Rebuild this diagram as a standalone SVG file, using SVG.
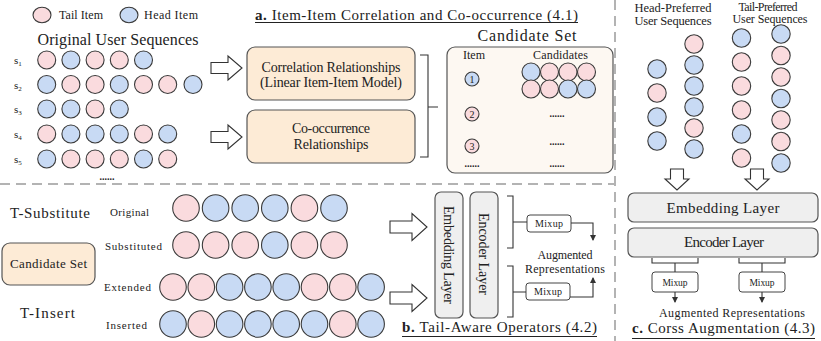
<svg xmlns="http://www.w3.org/2000/svg" width="821" height="341" viewBox="0 0 821 341">
<defs>
<style>
text{font-family:"Liberation Serif","Times New Roman",serif;fill:#222}
.p{fill:#fadbde;stroke:#3a3a3a;stroke-width:1.1}
.b{fill:#c8daf4;stroke:#3a3a3a;stroke-width:1.1}
.peach{fill:#fdebd6;stroke:#555;stroke-width:1.2}
.light{fill:#fdf8f2;stroke:#555;stroke-width:1.2}
.gray{fill:#efefef;stroke:#555;stroke-width:1.2}
.mix{fill:#fff;stroke:#444;stroke-width:1}
.arr{fill:#fff;stroke:#333;stroke-width:1.1}
.ln{fill:none;stroke:#333;stroke-width:1.1}
.dash{fill:none;stroke:#b3b3b3;stroke-width:2;stroke-dasharray:10 6}
.c{text-anchor:middle}
</style>
<marker id="ah" viewBox="0 0 6 6" refX="5" refY="3" markerWidth="6" markerHeight="6" orient="auto" markerUnits="userSpaceOnUse">
<path d="M0,0 L6,3 L0,6 Z" fill="#333"/>
</marker>
</defs>

<g id="dividers">
<line class="dash" x1="0" y1="184" x2="614" y2="184"/>
<line class="dash" x1="615" y1="0" x2="615" y2="341"/>
</g>

<g id="legend">
<ellipse class="p" cx="42" cy="15" rx="9" ry="7.8"/>
<text x="59" y="19" font-size="12" textLength="44">Tail Item</text>
<ellipse class="b" cx="129" cy="15" rx="9" ry="7.8"/>
<text x="144" y="19" font-size="12" textLength="54">Head Item</text>
</g>

<g id="title-a">
<text x="255" y="19.5" font-size="15" textLength="323"><tspan font-weight="bold">a.</tspan> Item-Item Correlation and Co-occurrence (4.1)</text>
<line x1="255" y1="22.5" x2="578" y2="22.5" stroke="#222" stroke-width="1"/>
</g>

<g id="original-sequences">
<text class="c" x="118" y="44.5" font-size="16" textLength="161">Original User Sequences</text>
<g font-size="11">
<text x="14" y="64">s<tspan font-size="7" dy="2">1</tspan></text>
<text x="14" y="88.5">s<tspan font-size="7" dy="2">2</tspan></text>
<text x="14" y="113">s<tspan font-size="7" dy="2">3</tspan></text>
<text x="14" y="138">s<tspan font-size="7" dy="2">4</tspan></text>
<text x="14" y="163">s<tspan font-size="7" dy="2">5</tspan></text>
</g>
<g>
<circle class="p" cx="46.7" cy="60" r="9"/><circle class="b" cx="70.9" cy="60" r="9"/><circle class="p" cx="95.1" cy="60" r="9"/><circle class="p" cx="119.3" cy="60" r="9"/><circle class="b" cx="143.5" cy="60" r="9"/>
<circle class="b" cx="46.7" cy="84.5" r="9"/><circle class="p" cx="70.9" cy="84.5" r="9"/><circle class="p" cx="95.1" cy="84.5" r="9"/><circle class="b" cx="119.3" cy="84.5" r="9"/><circle class="p" cx="143.5" cy="84.5" r="9"/><circle class="p" cx="167.7" cy="84.5" r="9"/><circle class="b" cx="193" cy="84.5" r="9"/>
<circle class="b" cx="46.7" cy="109" r="9"/><circle class="b" cx="70.9" cy="109" r="9"/><circle class="p" cx="95.1" cy="109" r="9"/><circle class="b" cx="119.3" cy="109" r="9"/>
<circle class="p" cx="46.7" cy="134" r="9"/><circle class="b" cx="70.9" cy="134" r="9"/><circle class="b" cx="95.1" cy="134" r="9"/><circle class="b" cx="119.3" cy="134" r="9"/><circle class="p" cx="143.5" cy="134" r="9"/><circle class="b" cx="167.7" cy="134" r="9"/>
<circle class="b" cx="46.7" cy="159" r="9"/><circle class="p" cx="70.9" cy="159" r="9"/><circle class="p" cx="95.1" cy="159" r="9"/><circle class="p" cx="119.3" cy="159" r="9"/><circle class="b" cx="143.5" cy="159" r="9"/><circle class="p" cx="167.7" cy="159" r="9"/>
</g>
<text class="c" x="107" y="180" font-size="10" font-weight="bold">......</text>
</g>

<g id="correlation-box">
<rect class="peach" x="247" y="47" width="168" height="53" rx="8"/>
<text class="c" x="331" y="71.5" font-size="14" textLength="139">Correlation Relationships</text>
<text class="c" x="331" y="86.5" font-size="14" textLength="142">(Linear Item-Item Model)</text>
</g>

<g id="cooccurrence-box">
<rect class="peach" x="247" y="110" width="168" height="53" rx="8"/>
<text class="c" x="331" y="133" font-size="14" textLength="78">Co-occurrence</text>
<text class="c" x="331" y="148.5" font-size="14" textLength="75">Relationships</text>
</g>

<g id="candidate-set-a">
<text class="c" x="527" y="40.5" font-size="16" textLength="99">Candidate Set</text>
<rect class="light" x="447" y="47" width="166" height="126" rx="8"/>
<text x="463" y="59" font-size="12" textLength="22">Item</text>
<text x="533" y="59" font-size="12" textLength="55">Candidates</text>
<circle class="b" cx="472" cy="79" r="7"/><text class="c" x="472" y="82.5" font-size="10">1</text>
<circle class="p" cx="472" cy="114" r="7"/><text class="c" x="472" y="117.5" font-size="10">2</text>
<circle class="p" cx="472" cy="146" r="7"/><text class="c" x="472" y="149.5" font-size="10">3</text>
<text class="c" x="472" y="167" font-size="10" font-weight="bold">......</text>
<circle class="b" cx="531" cy="72" r="9"/><circle class="p" cx="549.5" cy="72" r="9"/><circle class="p" cx="568" cy="72" r="9"/><circle class="p" cx="586.5" cy="72" r="9"/>
<circle class="p" cx="531" cy="89" r="9"/><circle class="p" cx="549.5" cy="89" r="9"/><circle class="b" cx="568" cy="89" r="9"/><circle class="b" cx="586.5" cy="89" r="9"/>
<text class="c" x="557" y="117" font-size="10" font-weight="bold">......</text>
<text class="c" x="557" y="145" font-size="10" font-weight="bold">......</text>
<text class="c" x="557" y="167" font-size="10" font-weight="bold">......</text>
</g>

<g id="head-preferred">
<text class="c" x="673" y="11.5" font-size="12.5" textLength="77">Head-Preferred</text>
<text class="c" x="673" y="24.5" font-size="12.5" textLength="77">User Sequences</text>
<circle class="b" cx="657" cy="69" r="9.2"/><circle class="p" cx="657" cy="93" r="9.2"/><circle class="b" cx="657" cy="117" r="9.2"/><circle class="b" cx="657" cy="141" r="9.2"/>
<circle class="p" cx="694" cy="44" r="9.2"/><circle class="b" cx="694" cy="65" r="9.2"/><circle class="b" cx="694" cy="86" r="9.2"/><circle class="b" cx="694" cy="107" r="9.2"/><circle class="p" cx="694" cy="128" r="9.2"/><circle class="b" cx="694" cy="149" r="9.2"/>
</g>

<g id="tail-preferred">
<text class="c" x="768" y="10.5" font-size="12" textLength="59">Tail-Preferred</text>
<text class="c" x="770" y="23" font-size="12" textLength="75">User Sequences</text>
<circle class="b" cx="741.5" cy="38" r="9.2"/><circle class="p" cx="741.5" cy="62" r="9.2"/><circle class="p" cx="741.5" cy="86" r="9.2"/><circle class="p" cx="741.5" cy="110" r="9.2"/><circle class="b" cx="741.5" cy="134" r="9.2"/><circle class="p" cx="741.5" cy="158" r="9.2"/>
<circle class="b" cx="781" cy="34" r="9.2"/><circle class="p" cx="781" cy="55.5" r="9.2"/><circle class="p" cx="781" cy="77" r="9.2"/><circle class="b" cx="781" cy="98.5" r="9.2"/><circle class="p" cx="781" cy="120" r="9.2"/><circle class="p" cx="781" cy="141.5" r="9.2"/><circle class="b" cx="781" cy="163" r="9.2"/>
</g>

<g id="embedding-c">
<rect class="gray" x="628" y="193" width="190" height="29" rx="6"/>
<text class="c" x="723" y="212.5" font-size="15" textLength="113">Embedding Layer</text>
</g>
<g id="encoder-c">
<rect class="gray" x="628" y="228" width="190" height="29" rx="6"/>
<text class="c" x="724" y="246.5" font-size="15" textLength="80">Encoder Layer</text>
</g>
<g id="mixup-c1">
<rect class="mix" x="652" y="272" width="46" height="20" rx="3"/>
<text class="c" x="675" y="285.5" font-size="9.5" textLength="25">Mixup</text>
</g>
<g id="mixup-c2">
<rect class="mix" x="739" y="272" width="46" height="20" rx="3"/>
<text class="c" x="762" y="285.5" font-size="9.5" textLength="25">Mixup</text>
</g>
<g id="aug-c">
<text class="c" x="732" y="316.5" font-size="12" textLength="146">Augmented Representations</text>
</g>
<g id="title-c">
<text x="632" y="333" font-size="15" textLength="183"><tspan font-weight="bold">c.</tspan> Corss Augmentation (4.3)</text>
<line x1="632" y1="338.5" x2="815" y2="338.5" stroke="#222" stroke-width="1"/>
</g>

<g id="t-substitute">
<text x="10" y="218" font-size="15" textLength="80">T-Substitute</text>
<text x="110" y="216" font-size="11" textLength="39">Original</text>
<text x="105" y="250" font-size="11" textLength="57">Substituted</text>
<circle class="p" cx="186" cy="208" r="13.3"/><circle class="b" cx="215.6" cy="208" r="13.3"/><circle class="b" cx="245.2" cy="208" r="13.3"/><circle class="b" cx="274.8" cy="208" r="13.3"/><circle class="p" cx="304.4" cy="208" r="13.3"/><circle class="b" cx="334" cy="208" r="13.3"/>
<circle class="p" cx="186" cy="245" r="13.3"/><circle class="p" cx="215.6" cy="245" r="13.3"/><circle class="p" cx="245.2" cy="245" r="13.3"/><circle class="b" cx="274.8" cy="245" r="13.3"/><circle class="p" cx="304.4" cy="245" r="13.3"/><circle class="p" cx="334" cy="245" r="13.3"/>
</g>

<g id="candidate-set-b">
<rect class="peach" x="2" y="243" width="93" height="42" rx="8"/>
<text class="c" x="48.5" y="268" font-size="13" textLength="77">Candidate Set</text>
</g>

<g id="t-insert">
<text x="20" y="318" font-size="15" textLength="55">T-Insert</text>
<text x="104" y="291" font-size="11" textLength="47">Extended</text>
<text x="106" y="329" font-size="11" textLength="41">Inserted</text>
<circle class="p" cx="173" cy="287" r="13.3"/><circle class="p" cx="201.3" cy="287" r="13.3"/><circle class="b" cx="229.6" cy="287" r="13.3"/><circle class="b" cx="257.9" cy="287" r="13.3"/><circle class="b" cx="286.2" cy="287" r="13.3"/><circle class="p" cx="314.5" cy="287" r="13.3"/><circle class="p" cx="342.8" cy="287" r="13.3"/><circle class="b" cx="371.1" cy="287" r="13.3"/>
<circle class="b" cx="173" cy="324" r="13.3"/><circle class="p" cx="201.3" cy="324" r="13.3"/><circle class="b" cx="229.6" cy="324" r="13.3"/><circle class="b" cx="257.9" cy="324" r="13.3"/><circle class="b" cx="286.2" cy="324" r="13.3"/><circle class="b" cx="314.5" cy="324" r="13.3"/><circle class="p" cx="342.8" cy="324" r="13.3"/><circle class="b" cx="371.1" cy="324" r="13.3"/>
</g>

<g id="embedding-b">
<rect class="gray" x="435" y="192" width="28" height="126" rx="6"/>
<text class="c" x="449" y="255" font-size="14" textLength="98" transform="rotate(90 449 255)" dy="5">Embedding Layer</text>
</g>
<g id="encoder-b">
<rect class="gray" x="470" y="192" width="28" height="126" rx="6"/>
<text class="c" x="484" y="254" font-size="14" textLength="82" transform="rotate(90 484 254)" dy="5">Encoder Layer</text>
</g>
<g id="mixup-b1">
<rect class="mix" x="527" y="215" width="44" height="17" rx="3"/>
<text class="c" x="549" y="227" font-size="10" textLength="28">Mixup</text>
</g>
<g id="mixup-b2">
<rect class="mix" x="526" y="283" width="44" height="17" rx="3"/>
<text class="c" x="548" y="295" font-size="10" textLength="28">Mixup</text>
</g>
<g id="aug-b">
<text class="c" x="565" y="259" font-size="12" textLength="55">Augmented</text>
<text class="c" x="565" y="272.5" font-size="12" textLength="80">Representations</text>
</g>
<g id="title-b">
<text x="402" y="332" font-size="15" textLength="195"><tspan font-weight="bold">b.</tspan> Tail-Aware Operators (4.2)</text>
<line x1="402" y1="336.5" x2="597" y2="336.5" stroke="#222" stroke-width="1"/>
</g>

<g id="connectors">
<path class="arr" d="M211,62.5 H228 V56 L242,68 L228,80 V73.5 H211 Z"/>
<path class="arr" d="M211,131.5 H228 V125 L242,137 L228,149 V142.5 H211 Z"/>
<path class="ln" d="M420,55 H428 V157 H420 M428,107 H438"/>
<path class="arr" d="M390,221 H412 V213.5 L427,227 L412,240.5 V233 H390 Z"/>
<path class="arr" d="M390,292 H412 V284.5 L427,298 L412,311.5 V304 H390 Z"/>
<path class="ln" d="M507,196 H513 V248 H507 M513,222 H527"/>
<path class="ln" d="M507,266 H513 V317 H507 M513,292 H526"/>
<path class="ln" d="M571,223 H593 V240" marker-end="url(#ah)"/>
<path class="ln" d="M570,297 H593 V278" marker-end="url(#ah)"/>
<path class="arr" d="M670.5,169 H683.5 V179 H689 L677,190 L665,179 H670.5 Z"/>
<path class="arr" d="M750.5,169 H763.5 V179 H769 L757,190 L745,179 H750.5 Z"/>
<path class="ln" d="M652,258 V263 H698 V258 M675,263 V272"/>
<path class="ln" d="M739,258 V263 H785 V258 M762,263 V272"/>
<path class="ln" d="M675,292 V302" marker-end="url(#ah)"/>
<path class="ln" d="M762,292 V302" marker-end="url(#ah)"/>
</g>
</svg>
